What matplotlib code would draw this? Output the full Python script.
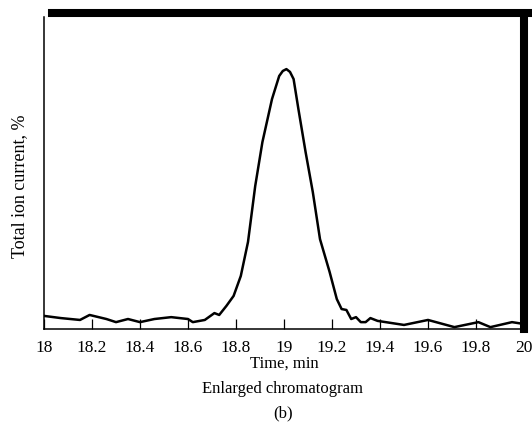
# -*- coding: utf-8 -*-
"""
Enlarged chromatogram (b) - total ion current vs time
"""
#%% import
import matplotlib
matplotlib.use('Agg')
import matplotlib.pyplot as plt
import numpy as np

#%% data
time_min = [18.00, 18.07, 18.15, 18.19, 18.26, 18.30, 18.35, 18.40, 18.46,
            18.53, 18.60, 18.62, 18.67, 18.71, 18.73, 18.76, 18.79, 18.82,
            18.85, 18.88, 18.91, 18.95, 18.98, 18.995, 19.01, 19.025, 19.04,
            19.06, 19.09, 19.12, 19.15, 19.19, 19.22, 19.24, 19.26, 19.28,
            19.30, 19.32, 19.34, 19.36, 19.39, 19.50, 19.60, 19.71, 19.81,
            19.86, 19.95, 20.00]
tic_pct = [4.2, 3.5, 2.9, 4.5, 3.2, 2.2, 3.2, 2.2, 3.2,
           3.8, 3.2, 2.2, 2.9, 5.1, 4.5, 7.4, 10.6, 17.0,
           27.9, 45.8, 59.9, 73.7, 81.1, 82.7, 83.3, 82.4, 80.1,
           70.5, 56.7, 43.9, 28.8, 18.3, 9.6, 6.4, 6.1, 3.2,
           3.8, 2.2, 2.2, 3.5, 2.6, 1.3, 2.9, 0.6, 2.2,
           0.6, 2.2, 1.6]
xticks = [18, 18.2, 18.4, 18.6, 18.8, 19, 19.2, 19.4, 19.6, 19.8, 20]
xticklabels = ['18', '18.2', '18.4', '18.6', '18.8', '19', '19.2', '19.4',
               '19.6', '19.8', '20']

#%% figure
plt.rcParams['font.family'] = ['Liberation Serif', 'DejaVu Serif']

fig = plt.figure(figsize=(5.32, 4.31), dpi=100)
ax = fig.add_axes([44/532, 1 - 330/431, (524 - 44)/532, (330 - 18)/431])

ax.plot(time_min, tic_pct, color='k', lw=1.8, solid_joinstyle='round')

ax.set_xlim(18, 20)
ax.set_ylim(0, 100)
ax.set_xticks(xticks)
ax.set_xticklabels(xticklabels)
ax.tick_params(axis='x', direction='in', length=7, width=0.9, pad=7,
               labelsize=12.5)
ax.set_yticks([])

# heavy frame on top/right as in the scan
ax.spines['left'].set_linewidth(1.1)
ax.spines['bottom'].set_linewidth(1.1)
ax.spines['top'].set_linewidth(5.8)
ax.spines['top'].set_position(('outward', 3))
ax.spines['top'].set_bounds(18.035, 20.02)
ax.spines['right'].set_linewidth(5.8)

fig.text(20/532, 1 - 186/431, 'Total ion current, %', rotation=90,
         ha='center', va='center', fontsize=13)
fig.text(284/532, 1 - 364/431, 'Time, min', ha='center', va='center',
         fontsize=12)
fig.text(283/532, 1 - 389/431, 'Enlarged chromatogram', ha='center',
         va='center', fontsize=12)
fig.text(283/532, 1 - 413/431, '(b)', ha='center', va='center', fontsize=12)

#%% save
fig.savefig('out.png', dpi=100)
